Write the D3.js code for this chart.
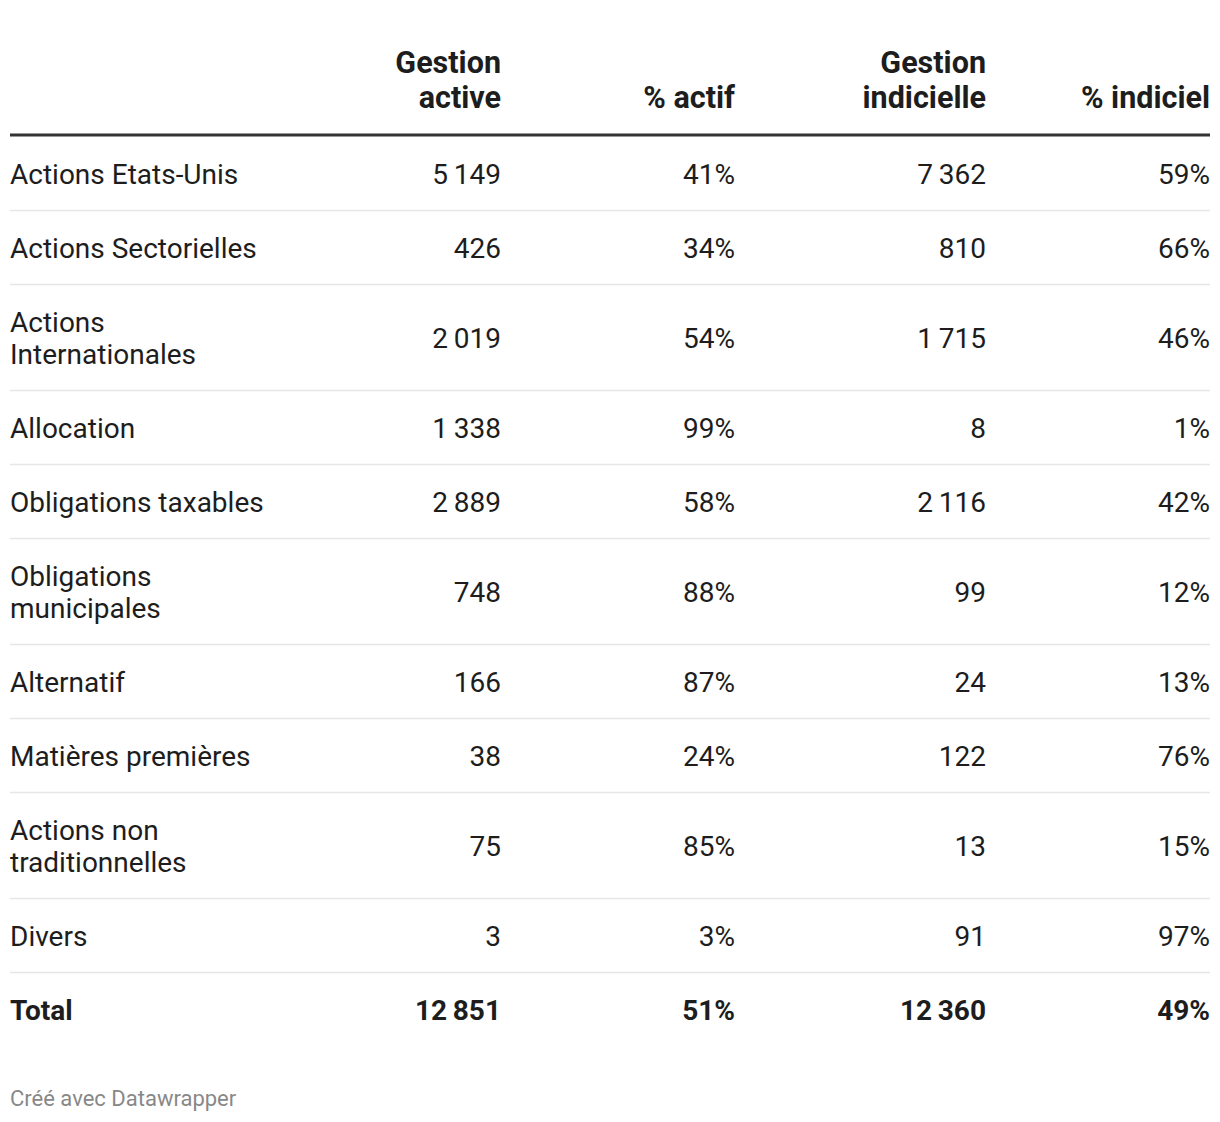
<!DOCTYPE html>
<html>
<head>
<meta charset="utf-8">
<script src="https://cdn.jsdelivr.net/npm/d3@7"></script>
<style>
  html, body { margin: 0; padding: 0; background: #fff; }
  svg text { font-family: Roboto, "Noto Sans", sans-serif; }
</style>
</head>
<body>
<svg id="chart" width="1220" height="1122"></svg>
<script>
// ---- data ----
const headers = ["Gestion active", "% actif", "Gestion indicielle", "% indiciel"];
const categories = [
  "Actions Etats-Unis", "Actions Sectorielles", "Actions Internationales", "Allocation",
  "Obligations taxables", "Obligations municipales", "Alternatif", "Matières premières",
  "Actions non traditionnelles", "Divers"
];
const gestionActive = [5149, 426, 2019, 1338, 2889, 748, 166, 38, 75, 3];
const pctActif = [41, 34, 54, 99, 58, 88, 87, 24, 85, 3];
const gestionIndicielle = [7362, 810, 1715, 8, 2116, 99, 24, 122, 13, 91];
const pctIndiciel = [59, 66, 46, 1, 42, 12, 13, 76, 15, 97];
const totalLabel = "Total";
const totals = [12851, 51, 12360, 49];
const footer = "Créé avec Datawrapper";

// ---- layout ----
const svg = d3.select("#chart");
const left = 10, right = 1210;
const fontSize = 28;
const headSize = 30.5;
const lineH = 32;
const textColor = "#1d1d1d";
const labelMax = 272;

const colX = d3.scaleOrdinal().domain([0, 1, 2, 3]).range([501, 735, 986, 1210]);

const fmtNum = v => d3.format(",")(v).replace(/,/g, "\u2009");
const fmtPct = v => v + "%";
const formatters = [fmtNum, fmtPct, fmtNum, fmtPct];

// measurer for wrapping
const meas = svg.append("text").attr("font-size", fontSize).attr("visibility", "hidden");
function wrap(str, max, size) {
  meas.attr("font-size", size);
  const words = str.split(" ");
  const lines = [];
  let cur = "";
  for (const w of words) {
    const test = cur ? cur + " " + w : w;
    meas.text(test);
    if (meas.node().getComputedTextLength() > max && cur) { lines.push(cur); cur = w; }
    else cur = test;
  }
  lines.push(cur);
  return lines;
}

// header
headers.forEach((h, i) => {
  const lines = wrap(h, 160, headSize);
  const t = svg.append("text")
    .attr("x", colX(i)).attr("text-anchor", "end")
    .attr("font-size", headSize).attr("font-weight", 700).attr("fill", textColor);
  lines.forEach((ln, k) => {
    t.append("tspan").attr("x", colX(i))
      .attr("y", 108 - (lines.length - 1 - k) * 35)
      .text(ln);
  });
});

svg.append("line").attr("x1", left).attr("x2", right)
  .attr("y1", 135).attr("y2", 135)
  .attr("stroke", "#333").attr("stroke-width", 3);

// rows
const rows = categories.map((c, i) => ({
  label: c,
  values: [gestionActive[i], pctActif[i], gestionIndicielle[i], pctIndiciel[i]],
  bold: false
}));
rows.push({ label: totalLabel, values: totals, bold: true });

let y = 137;
rows.forEach((r, i) => {
  const lines = wrap(r.label, labelMax, fontSize);
  const h = 74 + (lines.length - 1) * lineH;
  const cy = y + h / 2;
  const g = svg.append("g");
  const t = g.append("text").attr("font-size", fontSize)
    .attr("font-weight", r.bold ? 700 : 400).attr("fill", textColor);
  lines.forEach((ln, k) => {
    t.append("tspan").attr("x", left)
      .attr("y", cy + (k - (lines.length - 1) / 2) * lineH)
      .attr("dy", "0.35em")
      .text(ln);
  });
  r.values.forEach((v, j) => {
    g.append("text").attr("x", colX(j)).attr("y", cy).attr("dy", "0.35em")
      .attr("text-anchor", "end").attr("font-size", fontSize)
      .attr("font-weight", r.bold ? 700 : 400).attr("fill", textColor)
      .text(formatters[j](v));
  });
  y += h;
  if (i < rows.length - 1) {
    svg.append("line").attr("x1", left).attr("x2", right)
      .attr("y1", y - 0.5).attr("y2", y - 0.5)
      .attr("stroke", "#e6e6e6").attr("stroke-width", 1.5);
  }
});

meas.remove();

svg.append("text").attr("x", left).attr("y", 1098).attr("dy", "0.35em")
  .attr("font-size", 22).attr("fill", "#888").text(footer);
</script>
</body>
</html>
